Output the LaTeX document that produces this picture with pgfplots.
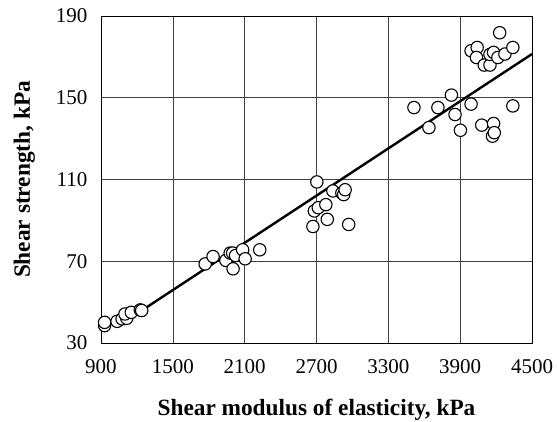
\documentclass[border=0pt]{standalone}
\usepackage{pgfplots}
\pgfplotsset{compat=1.18}
\usetikzlibrary{calc}
\usepackage{fontspec}
\setmainfont{Liberation Serif}

\begin{document}
\begin{tikzpicture}
\begin{axis}[
  name=ax,
  scale only axis,
  width=431pt, height=327pt,
  xmin=900, xmax=4500, ymin=30, ymax=190,
  xtick={900,1500,...,4500},
  ytick={30,70,...,190},
  grid=major,
  major grid style={black!75, line width=0.6pt},
  axis line style={black, line width=0.9pt},
  major tick length=0pt,
  tick label style={font=\fontsize{21}{23}\selectfont},
  xticklabel style={yshift=-13pt},
  yticklabel style={xshift=-10pt},
  /pgf/number format/assume math mode=true,
  /pgf/number format/set thousands separator={},
  xlabel={\bfseries Shear modulus of elasticity, kPa},
  ylabel={\bfseries Shear strength, kPa},
  every axis x label/.style={at={(axis description cs:0.5,-0.205)}, anchor=center,
    font=\fontsize{23.3}{25}\selectfont},
  every axis y label/.style={at={(axis description cs:-0.178,0.5)}, anchor=center, rotate=90,
    font=\fontsize{23.3}{25}\selectfont},
]
\addplot[only marks, mark=*, mark size=6.2pt,
  mark options={fill=white, draw=black, line width=1.1pt}] table {
x y
930 38.5
930 40.1
1034 40.6
1076 41.8
1115 42.1
1100 44.2
1153 45.0
1228 46.2
1240 45.9
1770 68.7
1836 72.3
1943 70.4
1979 74.0
2000 74.0
2003 66.3
2024 72.8
2083 75.6
2104 71.2
2226 75.6
2703 108.8
2670 87.0
2682 94.6
2715 96.2
2778 97.7
2790 90.5
2837 104.4
2912 103.4
2927 102.6
2939 105.0
2969 88.0
3514 145.2
3639 135.4
3714 145.2
3827 151.3
3857 141.8
3902 134.1
3991 146.9
4080 136.6
4170 131.2
4179 137.4
4185 132.9
4340 146.0
3991 173.0
4042 174.6
4036 169.7
4101 166.0
4149 166.0
4149 171.2
4179 172.2
4215 169.7
4230 181.8
4274 171.4
4340 174.6
};
\addplot[black, line width=2.4pt] coordinates {(1240,45.9) (4500,171.4)};
\end{axis}
\pgfresetboundingbox
\path ($(ax.south west)+(-101pt,-78pt)$) rectangle ($(ax.north east)+(26pt,16pt)$);
\end{tikzpicture}
\end{document}
